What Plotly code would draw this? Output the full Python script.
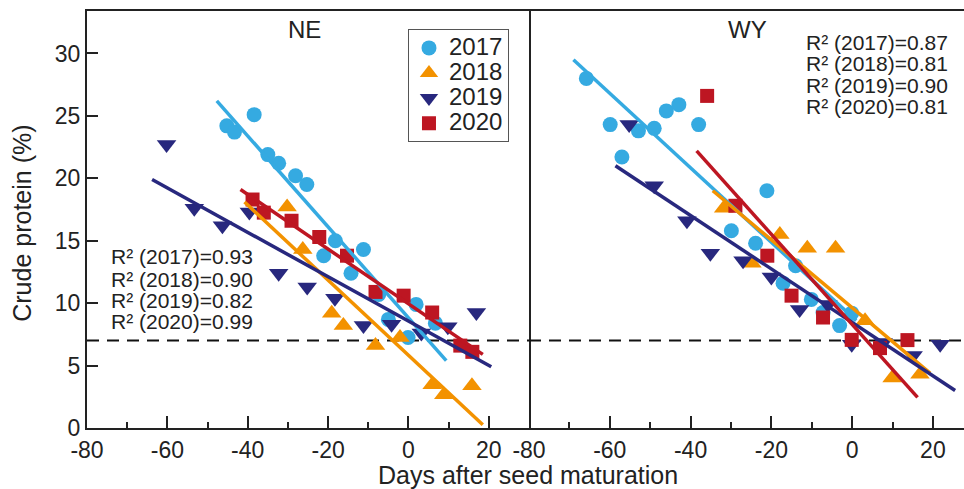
import plotly.graph_objects as go
from plotly.subplots import make_subplots

YEARS = ["2017", "2018", "2019", "2020"]
COLORS = {"2017": "#35AAE1", "2018": "#F39200", "2019": "#28287E", "2020": "#BD1622"}
SYMBOLS = {"2017": "circle", "2018": "triangle-up", "2019": "triangle-down", "2020": "square"}
SIZES = {"2017": 15, "2018": 17, "2019": 17, "2020": 14}

# ---- NE panel data (days after seed maturation, crude protein %) ----
ne_x_2017 = [-45.2, -43.3, -38.4, -35.0, -32.3, -28.1, -25.3, -21.1, -18.2, -14.3, -11.2, -7.4, -5.0, -0.1, 1.9, 6.7]
ne_y_2017 = [24.2, 23.7, 25.1, 21.9, 21.2, 20.2, 19.5, 13.8, 15.0, 12.4, 14.3, 10.7, 8.7, 7.25, 9.9, 8.4]
ne_x_2018 = [-30.2, -26.3, -19.1, -16.2, -8.2, -2.1, 5.9, 8.8, 15.8]
ne_y_2018 = [17.7, 14.3, 9.2, 8.2, 6.6, 7.25, 3.46, 2.66, 3.38]
ne_x_2019 = [-60.2, -53.3, -46.3, -39.6, -32.3, -25.2, -18.3, -11.2, -4.2, 3.2, 9.8, 16.9]
ne_y_2019 = [22.7, 17.6, 16.2, 17.3, 12.4, 11.3, 10.4, 8.2, 8.3, 7.6, 8.1, 9.25]
ne_x_2020 = [-38.8, -36.0, -29.1, -22.2, -15.3, -8.2, -1.2, 5.9, 12.9, 15.9]
ne_y_2020 = [18.3, 17.25, 16.6, 15.3, 13.8, 10.9, 10.6, 9.25, 6.6, 6.1]

# fitted regression lines (end points)
ne_fit_x = {"2017": [-47.7, 9.4], "2018": [-40.8, 18.5], "2019": [-63.8, 20.6], "2020": [-41.8, 18.5]}
ne_fit_y = {"2017": [26.2, 5.4], "2018": [18.1, 0.26], "2019": [19.9, 4.9], "2020": [19.1, 5.9]}
ne_r2 = ["0.93", "0.90", "0.82", "0.99"]

# ---- WY panel data ----
wy_x_2017 = [-65.8, -59.9, -57.0, -52.9, -49.0, -46.0, -42.9, -38.0, -21.1, -29.9, -23.9, -14.0, -17.1, -10.1, -7.2, -3.1, -0.1]
wy_y_2017 = [28.0, 24.3, 21.7, 23.8, 24.0, 25.4, 25.9, 24.3, 19.0, 15.8, 14.8, 13.0, 11.6, 10.3, 9.25, 8.2, 9.2]
wy_x_2018 = [-31.8, -17.9, -11.1, -4.1, -24.8, 3.2, 9.9, 16.8]
wy_y_2018 = [17.6, 15.5, 14.4, 14.4, 13.2, 8.6, 4.0, 4.3]
wy_x_2019 = [-55.2, -49.0, -40.9, -35.1, -27.0, -20.0, -13.0, -6.0, -0.1, 7.7, 15.1, 21.8]
wy_y_2019 = [24.3, 19.4, 16.6, 14.0, 13.4, 12.1, 9.5, 9.9, 6.7, 6.85, 5.8, 6.7]
wy_x_2020 = [-35.9, -28.9, -21.0, -15.0, -7.2, -0.1, 6.9, 13.7]
wy_y_2020 = [26.6, 17.8, 13.8, 10.6, 8.85, 7.06, 6.4, 7.04]

wy_fit_x = {"2017": [-69.0, 1.0], "2018": [-34.5, 19.3], "2019": [-58.6, 25.5], "2020": [-38.5, 16.2]}
wy_fit_y = {"2017": [29.5, 8.6], "2018": [19.0, 4.4], "2019": [21.0, 3.0], "2020": [22.2, 2.45]}
wy_r2 = ["0.87", "0.81", "0.90", "0.81"]

threshold = 7
x_ticks = [-80, -60, -40, -20, 0, 20]
x_tick_text = ["-80", "-60", "-40", "-20", "0", "20"]
x_minor = [-70, -50, -30, -10, 10]
y_ticks = [0, 5, 10, 15, 20, 25, 30]

ne_pts = {"2017": (ne_x_2017, ne_y_2017), "2018": (ne_x_2018, ne_y_2018),
          "2019": (ne_x_2019, ne_y_2019), "2020": (ne_x_2020, ne_y_2020)}
wy_pts = {"2017": (wy_x_2017, wy_y_2017), "2018": (wy_x_2018, wy_y_2018),
          "2019": (wy_x_2019, wy_y_2019), "2020": (wy_x_2020, wy_y_2020)}

FONT = "Liberation Sans, Arial, Helvetica, sans-serif"
TXT = "#222222"

fig = make_subplots(rows=1, cols=2, horizontal_spacing=0)

for col, pts, fx, fy in [(1, ne_pts, ne_fit_x, ne_fit_y), (2, wy_pts, wy_fit_x, wy_fit_y)]:
    # threshold dashed line
    fig.add_trace(go.Scatter(x=[-80, 30], y=[threshold, threshold], mode="lines",
                             line=dict(color="#111111", width=2, dash="12px,8px"),
                             showlegend=False, hoverinfo="skip"), row=1, col=col)
    for yr in YEARS:
        fig.add_trace(go.Scatter(x=pts[yr][0], y=pts[yr][1], mode="markers",
                                 name=f'<span style="font-size:24px">{yr}</span>',
                                 marker=dict(symbol=SYMBOLS[yr], size=SIZES[yr], color=COLORS[yr],
                                             line=dict(width=0)),
                                 showlegend=(col == 1), legendgroup=yr), row=1, col=col)
    for yr in YEARS:
        fig.add_trace(go.Scatter(x=fx[yr], y=fy[yr], mode="lines",
                                 line=dict(color=COLORS[yr], width=3.5),
                                 showlegend=False, hoverinfo="skip"), row=1, col=col)

axis_common = dict(showline=True, linecolor="#222222", linewidth=2, ticks="inside",
                   tickcolor="#222222", tickwidth=2, showgrid=False, zeroline=False,
                   tickfont=dict(family=FONT, size=23, color=TXT))

fig.update_xaxes(**axis_common, mirror=True, tickvals=x_ticks, ticktext=x_tick_text, ticklen=12,
                 minor=dict(tickvals=x_minor, ticklen=6, tickwidth=2, tickcolor="#222222", ticks="inside"))
fig.update_xaxes(range=[-80, 30], domain=[0, 0.504], row=1, col=1)
fig.update_xaxes(range=[-80, 27.7], domain=[0.504, 1], row=1, col=2)

fig.update_yaxes(**axis_common, range=[0, 33.4], tickvals=y_ticks, ticklen=11)
fig.update_yaxes(mirror=True, row=1, col=1)
fig.update_yaxes(showline=False, mirror=False, showticklabels=False, ticks="", row=1, col=2)

ann = []
ann.append(dict(text="NE", x=-25.9, y=31.9, xref="x", yref="y", showarrow=False,
                font=dict(family=FONT, size=24, color=TXT)))
ann.append(dict(text="WY", x=-25.9, y=31.9, xref="x2", yref="y2", showarrow=False,
                font=dict(family=FONT, size=24, color=TXT)))
ne_rows_y = [13.73, 11.92, 10.21, 8.53]
wy_rows_y = [30.9, 29.2, 27.46, 25.78]
for i, yr in enumerate(YEARS):
    ann.append(dict(text=f"R² ({yr})={ne_r2[i]}", x=-74.5, y=ne_rows_y[i], xref="x", yref="y",
                    xanchor="left", yanchor="middle", showarrow=False,
                    font=dict(family=FONT, size=21, color=TXT)))
    ann.append(dict(text=f"R² ({yr})={wy_r2[i]}", x=-12.0, y=wy_rows_y[i], xref="x2", yref="y2",
                    xanchor="left", yanchor="middle", showarrow=False,
                    font=dict(family=FONT, size=21, color=TXT)))
ann.append(dict(text="Days after seed maturation", x=0.503, y=-0.113, xref="paper", yref="paper",
                xanchor="center", yanchor="middle", showarrow=False,
                font=dict(family=FONT, size=25, color=TXT)))
ann.append(dict(text="Crude protein (%)", x=-0.074, y=0.49, xref="paper", yref="paper",
                xanchor="center", yanchor="middle", textangle=-90, showarrow=False,
                font=dict(family=FONT, size=25, color=TXT)))

fig.update_layout(
    width=964, height=489,
    margin=dict(l=87, r=0, t=11, b=61),
    paper_bgcolor="white", plot_bgcolor="white",
    annotations=ann,
    legend=dict(x=0.366, y=0.956, xanchor="left", yanchor="top",
                bordercolor="#555555", borderwidth=1, bgcolor="white",
                font=dict(family=FONT, size=17, color=TXT), tracegroupgap=0),
)

fig.write_html("out.html", config={"displayModeBar": False},
               post_script="document.body.style.margin='0px';document.body.style.overflow='hidden';")
